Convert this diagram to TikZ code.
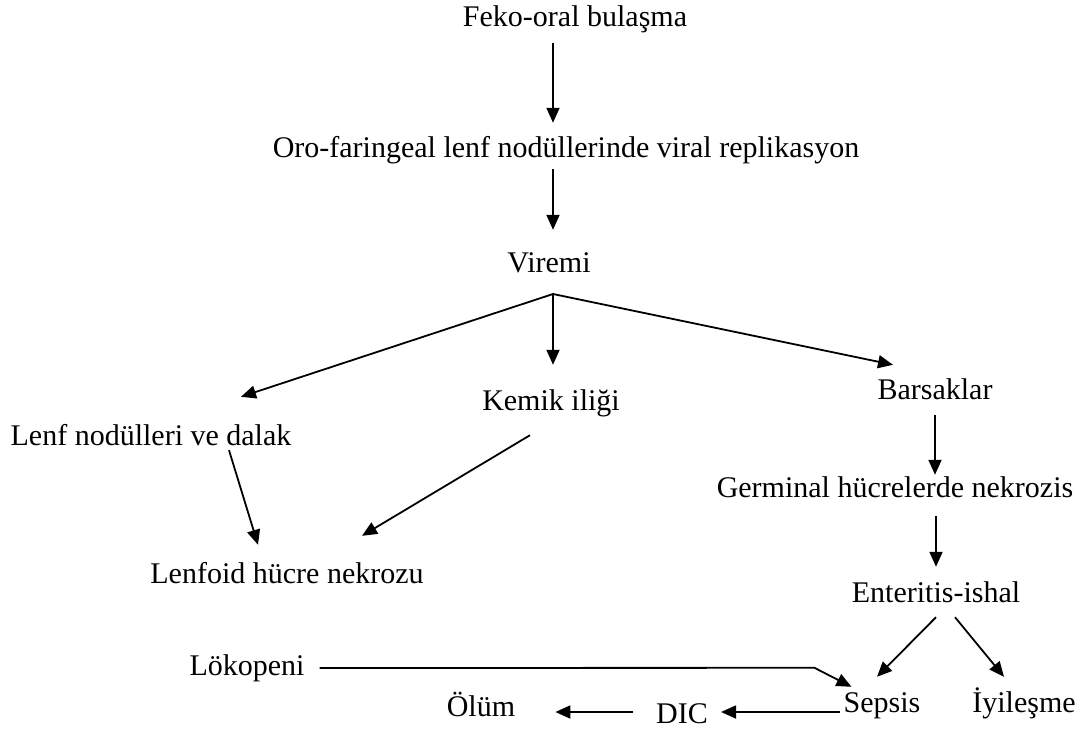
\documentclass[tikz,border=0pt]{standalone}
\usepackage{fontspec}
\setmainfont{Liberation Serif}
\usetikzlibrary{arrows.meta,calc}

\begin{document}
\begin{tikzpicture}[x=1pt,y=-1pt,
	txt/.style={anchor=base, inner sep=0pt, text height=21pt, text depth=7pt,
		font=\fontsize{30pt}{36pt}\selectfont},
	arr/.style={-{Triangle[length=15pt,width=13pt]}, line width=1.8pt}]
	\useasboundingbox (0,0) rectangle (1081,730);
	%\draw[gray] (0,0) rectangle (1081,730);
	\node[txt] (feko) at (575,27) {Feko-oral bulaşma};
	\node[txt] (oro) at (566,158) {Oro-faringeal lenf nodüllerinde viral replikasyon};
	\node[txt] (viremi) at (549,272) {Viremi};
	\coordinate (split) at (553,294);
	\node[txt] (lenf) at (151,445) {Lenf nodülleri ve dalak};
	\node[txt] (kemik) at (551,410) {Kemik iliği};
	\node[txt] (barsaklar) at (935,399) {Barsaklar};
	\node[txt] (lenfoid) at (287,583) {Lenfoid hücre nekrozu};
	\node[txt] (germinal) at (895,497) {Germinal hücrelerde nekrozis};
	\node[txt] (enteritis) at (936,602) {Enteritis-ishal};
	\node[txt] (lokopeni) at (247,675) {Lökopeni};
	\node[txt] (sepsis) at (882,712) {Sepsis};
	\node[txt] (iyilesme) at (1024,712) {İyileşme};
	\node[txt] (dic) at (682,723) {DIC};
	\node[txt] (olum) at (481,716) {Ölüm};
	\draw[arr] ($(feko.south -| split)+(0,9)$) -- ($(oro.north -| split)+(0,-14)$);
	\draw[arr] ($(oro.south -| split)+(0,4)$) -- ($(viremi.north -| split)+(0,-21)$);
	\draw[arr] (split) -- ($(lenf.north)+(90,-27)$);
	\draw[arr] (split) -- ($(kemik.north -| split)+(0,-24)$);
	\draw[arr] (split) -- ($(barsaklar.north)+(-42,-13)$);
	\draw[arr] ($(lenf.south)+(78,-2)$) -- ($(lenfoid.north)+(-29,-17)$);
	\draw[arr] ($(kemik.south)+(-21,18)$) -- ($(lenfoid.north)+(75,-26)$);
	\draw[arr] ($(barsaklar.south)+(0,9)$) -- ($(barsaklar.south |- germinal.north)+(0,-1)$);
	\draw[arr] ($(germinal.south -| enteritis.north)+(0,12)$) -- ($(enteritis.north)+(0,-14)$);
	\draw[arr] ($(enteritis.south)+(0,8)$) -- ($(sepsis.north)+(-5,-14)$);
	\draw[arr] ($(enteritis.south)+(19,8)$) -- ($(iyilesme.north)+(-20,-14)$);
	\draw[arr] ($(lokopeni.east)+(15,0)$) -- ($(sepsis.north west)+(-29,-23)$)
		-- ($(sepsis.north west)+(8,-4)$);
	\draw[arr] ($(sepsis.base west)+(-3,0)$) -- ($(dic.east |- sepsis.base west)+(13,0)$);
	\draw[arr] ($(dic.west |- sepsis.base west)+(-23,0)$) -- ($(olum.east |- sepsis.base west)+(40,0)$);
\end{tikzpicture}
\end{document}
